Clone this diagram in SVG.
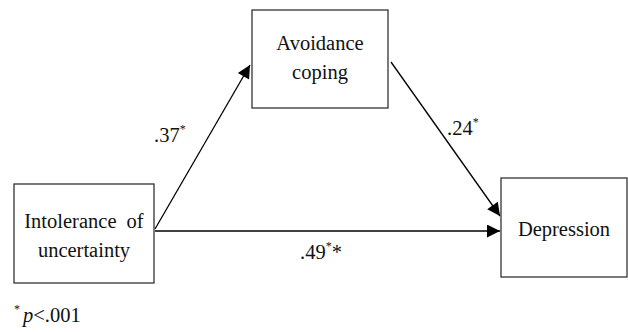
<svg xmlns="http://www.w3.org/2000/svg" width="628" height="332" viewBox="0 0 628 332">
<style>
.box{fill:#fff;stroke:#333;stroke-width:1.3}
text{font-family:"Liberation Serif","Times New Roman",serif;font-size:20.5px;fill:#111}
.sup{font-size:12px}
.c{stroke:#000;stroke-width:1.3;fill:none}
</style>
<defs>
<marker id="ah" viewBox="0 0 10 10" refX="10" refY="5" markerWidth="16" markerHeight="13" markerUnits="userSpaceOnUse" orient="auto">
<path d="M0,0 L10,5 L0,10 Z" fill="#000"/>
</marker>
</defs>
<rect width="628" height="332" fill="#fff"/>
<g id="connectors">
<line class="c" x1="155" y1="229" x2="250" y2="65" marker-end="url(#ah)"/>
<line class="c" x1="391" y1="62" x2="500" y2="216" marker-end="url(#ah)"/>
<line class="c" x1="155" y1="231" x2="500" y2="231" marker-end="url(#ah)"/>
</g>
<g id="avoidance">
<rect class="box" x="252" y="10" width="136" height="98"/>
<text x="320" y="50" text-anchor="middle">Avoidance</text>
<text x="320" y="79" text-anchor="middle">coping</text>
</g>
<g id="intolerance">
<rect class="box" x="14" y="184" width="140" height="99"/>
<text x="84" y="228" text-anchor="middle" word-spacing="5">Intolerance of</text>
<text x="84" y="257" text-anchor="middle">uncertainty</text>
</g>
<g id="depression">
<rect class="box" x="501" y="178" width="126" height="99"/>
<text x="564" y="236" text-anchor="middle">Depression</text>
</g>
<g id="labels">
<text x="154" y="142">.37<tspan class="sup" dy="-9">*</tspan></text>
<text x="447" y="135">.24<tspan class="sup" dy="-9">*</tspan></text>
<text x="300" y="259">.49<tspan class="sup" dy="-9">*</tspan><tspan dy="9">*</tspan></text>
<text x="14" y="322"><tspan class="sup" dy="-9">*</tspan><tspan dy="9" dx="3" font-style="italic">p</tspan>&lt;.001</text>
</g>
</svg>
